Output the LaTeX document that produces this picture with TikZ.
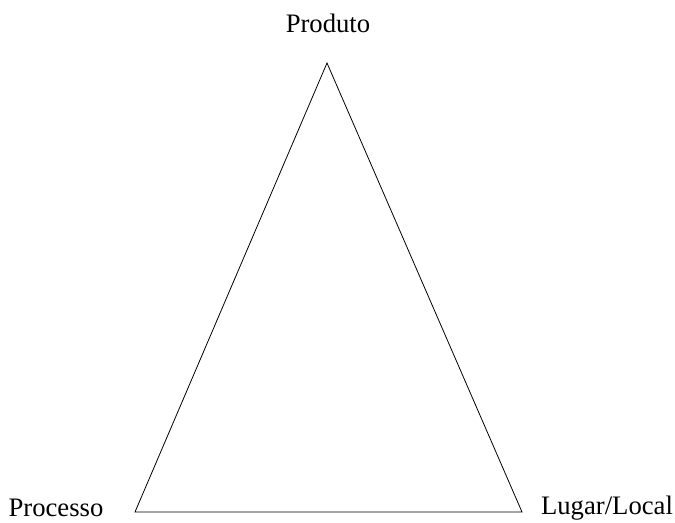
\documentclass[tikz,border=0pt]{standalone}
\usepackage{fontspec}
\setmainfont{Liberation Serif}
\usetikzlibrary{positioning}

\begin{document}
\begin{tikzpicture}[
    x=0.75pt, y=-0.75pt,
    lbl/.style={anchor=base, inner sep=0pt, font=\fontsize{20}{22}\selectfont},
    edge/.style={draw=black, line width=0.6pt, line join=miter}
]
    \useasboundingbox (0,0) rectangle (675,522);

    % vertices of the triangle
    \coordinate (top) at (327,63);
    \coordinate (left) at (135,512);
    \coordinate (right) at (522,512);

    \node [lbl] (produto) at (328,32) {Produto};
    \node [lbl] (processo) at (56,516) {Processo};
    \node [lbl] (lugar) at (607,514) {Lugar/Local};

    \draw [edge] (top) -- (left) -- (right) -- cycle;
\end{tikzpicture}
\end{document}
